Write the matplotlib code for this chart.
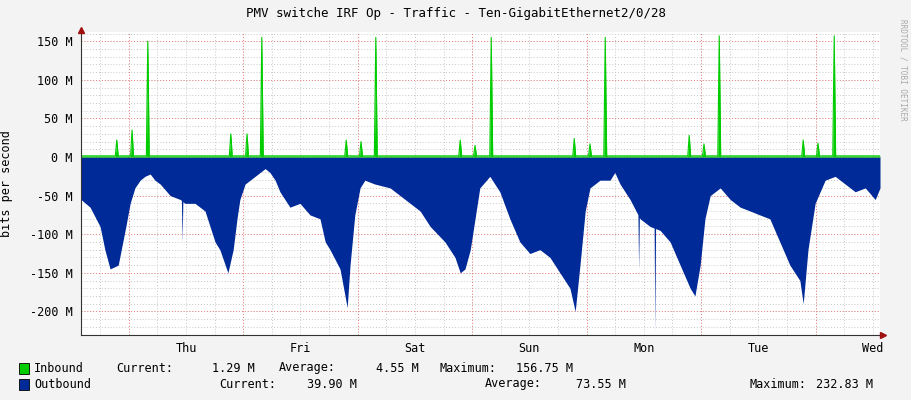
import matplotlib.pyplot as plt
import numpy as np

# hours since Tue 14:00; day boundaries at 10, 34, 58 ...
out_h = [0, 1.9, 4, 5, 6.1, 7.8, 8.6, 9.4, 10.3, 11.3, 12.4, 13.4, 14.5, 15.5, 16.6, 18.7,
         20.8, 21.8, 23.9, 26, 28.1, 29.1, 30.8, 31.9, 32.7, 33.3, 34.4, 36.5, 38.6, 39.6,
         40.7, 41.7, 43.8, 45.9, 48, 50.1, 51.2, 52.2, 54.3, 55.8, 56.4, 57.4, 58.5, 59.5,
         61.6, 64.8, 66.9, 69, 71.1, 73.2, 76.3, 78.4, 79.5, 80.5, 81.6, 82.6, 83.6, 85.7,
         87.8, 89.9, 92, 94.1, 96.2, 98.3, 100.4, 102.5, 103.6, 104.6, 105.7, 106.7, 108.8,
         110.9, 111.9, 113, 115.1, 117.2, 119.3, 121.4, 123.5, 125.6, 127.7, 128.7, 129.8,
         130.8, 131.9, 134, 136.1, 138.2, 140.3, 142.3, 144.4, 146.5, 148.6, 150.7, 151.4,
         152.4, 153.9, 156, 158.1, 160.2, 162.3, 164.4, 166.5, 167.5]
out_v = [55, 65, 90, 120, 145, 140, 115, 90, 60, 40, 30, 25, 22, 30, 35, 50,
         55, 60, 60, 70, 110, 120, 150, 120, 80, 55, 35, 25, 15, 20,
         30, 45, 65, 60, 75, 80, 110, 120, 145, 195, 140, 75, 40, 30,
         35, 40, 50, 60, 70, 90, 110, 130, 150, 145, 120, 80, 40, 25,
         45, 80, 110, 125, 120, 130, 150, 170, 200, 140, 70, 40, 30,
         30, 20, 35, 55, 80, 90, 95, 110, 140, 170, 180, 140,
         80, 50, 40, 55, 65, 70, 75, 80, 110, 140, 160, 190,
         120, 60, 30, 25, 35, 45, 40, 55, 40]
out_spike_h = [21.2, 116.9, 120.3]
out_spike_v = [110, 145, 225]

in_base = 1.5
in_spike_h = [7.5, 10.7, 14, 31.4, 34.8, 37.9, 55.6, 58.7, 61.8, 79.5, 82.6, 86,
              103.4, 106.7, 109.9, 127.5, 130.6, 133.8, 151.4, 154.5, 157.9]
in_spike_v = [22, 35, 150, 30, 30, 155, 22, 20, 155, 22, 15, 155,
              24, 17, 155, 28, 17, 157, 22, 18, 157]

days = ["Thu", "Fri", "Sat", "Sun", "Mon", "Tue", "Wed"]
day_mid = [22, 46, 70, 94, 118, 142, 166]
yticks = [150, 100, 50, 0, -50, -100, -150, -200]
T_END = 167.5

# build series: add narrow spikes to base profiles
oh = list(out_h); ov = list(out_v)
for h, v in zip(out_spike_h, out_spike_v):
    oh += [h - 0.15, h, h + 0.15]
    ov += [np.interp(h - 0.15, out_h, out_v), v, np.interp(h + 0.15, out_h, out_v)]
idx = np.argsort(oh)
oh = np.array(oh)[idx]; ov = -np.array(ov)[idx]

ih = [0]; iv = [in_base]
for h, v in zip(in_spike_h, in_spike_v):
    ih += [h - 0.3, h, h + 0.3]; iv += [in_base, v, in_base]
ih.append(T_END); iv.append(in_base)

plt.rcParams['font.family'] = 'DejaVu Sans Mono'
fs = 8.5
fig = plt.figure(figsize=(9.11, 4.0), dpi=100, facecolor="#f3f3f3")
ax = fig.add_axes([81/911, 1-335/400, 799/911, 303/400])
ax.set_facecolor("white")
ax.set_xlim(0, T_END)
ax.set_ylim(-230.6, 162)

# grid
for h in np.arange(4, T_END, 6):
    ax.axvline(h, color="#c8c8c8", lw=0.7, ls=(0, (1, 2)), zorder=0)
for y in range(-230, 161, 10):
    ax.axhline(y, color="#c8c8c8", lw=0.7, ls=(0, (1, 2)), zorder=0)
for h in range(10, 167, 24):
    ax.axvline(h, color="#f08080", lw=0.7, ls=(0, (1, 2)), zorder=0)
for y in yticks:
    ax.axhline(y, color="#f08080", lw=0.7, ls=(0, (1, 2)), zorder=0)

ax.fill_between(oh, 0, ov, color="#002a97", lw=0, zorder=2)
ax.fill_between(ih, 0, iv, color="#00cc00", lw=0, zorder=3)
ax.plot(ih, iv, color="#00cc00", lw=0.8, zorder=3)

for s in ax.spines.values():
    s.set_visible(False)
ax.axhline(-230.6, color="#333333", lw=0.8, zorder=5, clip_on=False)
ax.axvline(0, color="#333333", lw=0.8, zorder=5, clip_on=False)
ax.plot([T_END + 0.6], [-230.6], marker=">", color="#a01010", ms=4, clip_on=False, zorder=6)
ax.plot([0], [164], marker="^", color="#a01010", ms=4, clip_on=False, zorder=6)
ax.set_yticks(yticks)
ax.set_yticklabels([f"{v} M" for v in yticks], fontsize=fs)
ax.set_xticks(day_mid)
ax.set_xticklabels(days, fontsize=fs)
ax.tick_params(axis="both", length=0, pad=6)
ax.tick_params(axis="x", pad=5)
ax.set_ylabel("bits per second", fontsize=fs)
ax.yaxis.set_label_coords(-0.085, 0.5)

fig.text(0.5, 1-14/400, "PMV switche IRF Op - Traffic - Ten-GigabitEthernet2/0/28",
         ha="center", va="center", fontsize=9)
fig.text(903/911, 1-70/400, "RRDTOOL / TOBI OETIKER", rotation=270, ha="center",
         va="center", fontsize=5.5, color="#aaaaaa")

r1 = 1-368/400; r2 = 1-384/400
fig.patches.append(plt.Rectangle((19/911, r1-0.014), 10/911, 0.027, transform=fig.transFigure,
                                 facecolor="#00cc00", edgecolor="black", lw=0.6))
fig.patches.append(plt.Rectangle((19/911, r2-0.014), 10/911, 0.027, transform=fig.transFigure,
                                 facecolor="#002a97", edgecolor="black", lw=0.6))
for x, s in [(34, "Inbound"), (116, "Current:"), (212, "1.29 M"), (279, "Average:"),
             (376, "4.55 M"), (440, "Maximum:"), (516, "156.75 M")]:
    fig.text(x/911, r1, s, va="center", fontsize=fs)
for x, s in [(34, "Outbound"), (219, "Current:"), (307, "39.90 M"), (485, "Average:"),
             (576, "73.55 M"), (749, "Maximum:"), (816, "232.83 M")]:
    fig.text(x/911, r2, s, va="center", fontsize=fs)

fig.savefig("out.png", dpi=100, facecolor=fig.get_facecolor())
